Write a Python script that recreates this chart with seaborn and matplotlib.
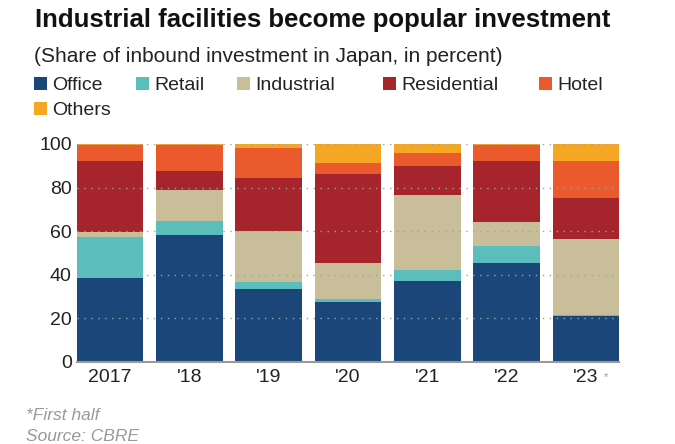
import numpy as np
import pandas as pd
import matplotlib
matplotlib.use("Agg")
import matplotlib.pyplot as plt
import seaborn as sns
from matplotlib.patches import Rectangle

# Data (percent)
years = ["2017", "'18", "'19", "'20", "'21", "'22", "'23"]
categories = ["Office", "Retail", "Industrial", "Residential", "Hotel", "Others"]
office = [38.3, 58.2, 33.4, 27.3, 37.1, 45.3, 21.0]
retail = [19.1, 6.3, 3.0, 1.6, 4.9, 7.7, 0.4]
industrial = [2.3, 14.4, 23.8, 16.6, 34.7, 11.2, 35.1]
residential = [32.6, 8.7, 24.2, 40.7, 13.0, 28.1, 18.5]
hotel = [7.1, 12.1, 13.8, 5.2, 6.3, 7.1, 17.3]
others = [0.6, 0.3, 1.8, 8.6, 4.0, 0.6, 7.7]
y_ticks = [0, 20, 40, 60, 80, 100]

colors = {"Office": "#1b4679", "Retail": "#5cbdbd", "Industrial": "#c8bf9a",
          "Residential": "#a6242b", "Hotel": "#eb5a2c", "Others": "#f5a623"}

df = pd.DataFrame({"Office": office, "Retail": retail, "Industrial": industrial,
                   "Residential": residential, "Hotel": hotel, "Others": others},
                  index=years)
cum = df.cumsum(axis=1)

sns.set_style("white")
plt.rcParams["font.family"] = ["Liberation Sans", "DejaVu Sans"]

W, H = 675, 444
fig = plt.figure(figsize=(W / 100, H / 100), dpi=100)
ax = fig.add_axes([76.7 / W, 1 - 361.7 / H, (619.3 - 76.7) / W, (361.7 - 144) / H])

# stacked bars: draw cumulative totals from the top category down
for cat in reversed(categories):
    sns.barplot(x=years, y=cum[cat].values, color=colors[cat], width=0.84,
                saturation=1, ax=ax, linewidth=0)

ax.set_xlim(-0.42, len(years) - 0.58)
ax.set_ylim(0, 100)
ax.set_yticks(y_ticks)
ax.set_xlabel("")
ax.set_ylabel("")

for v in y_ticks[1:]:
    ax.axhline(v, color="#a0a0a0", linestyle=(0, (1, 4)), linewidth=1, zorder=5)

for s in ["left", "right", "top"]:
    ax.spines[s].set_visible(False)
ax.spines["bottom"].set_color("#9a9a9a")
ax.spines["bottom"].set_linewidth(1.5)

ax.tick_params(axis="y", length=0, pad=3.6, labelsize=14, labelcolor="#222222")
ax.tick_params(axis="x", length=3, width=2.2, color="black", pad=2.5,
               labelsize=14, labelcolor="#222222")
fig.text(604 / W, 1 - 372 / H, "*", fontsize=8, color="#999999", va="top")

# title and subtitle
fig.text(35 / W, 1 - 27.3 / H, "Industrial facilities become popular investment",
         fontsize=18.5, fontweight="bold", va="baseline", color="#111111")
fig.text(34 / W, 1 - 61.7 / H, "(Share of inbound investment in Japan, in percent)",
         fontsize=15, va="baseline", color="#222222")

# legend
legend_pos = [(34, 90), (136, 90), (237, 90), (383, 90), (539, 90), (34, 115)]
for cat, (lx, ly) in zip(categories, legend_pos):
    fig.patches.append(Rectangle((lx / W, 1 - ly / H), 13 / W, 13 / H,
                                 transform=fig.transFigure, facecolor=colors[cat],
                                 edgecolor="none"))
    fig.text((lx + 18) / W, 1 - ly / H, cat, fontsize=14, va="baseline",
             color="#222222")

# footnotes
fig.text(26 / W, 1 - 420 / H, "*First half", fontsize=12.5, style="italic",
         color="#999999", va="baseline")
fig.text(26 / W, 1 - 441 / H, "Source: CBRE", fontsize=12.5, style="italic",
         color="#999999", va="baseline")

fig.savefig("out.png", dpi=100)
